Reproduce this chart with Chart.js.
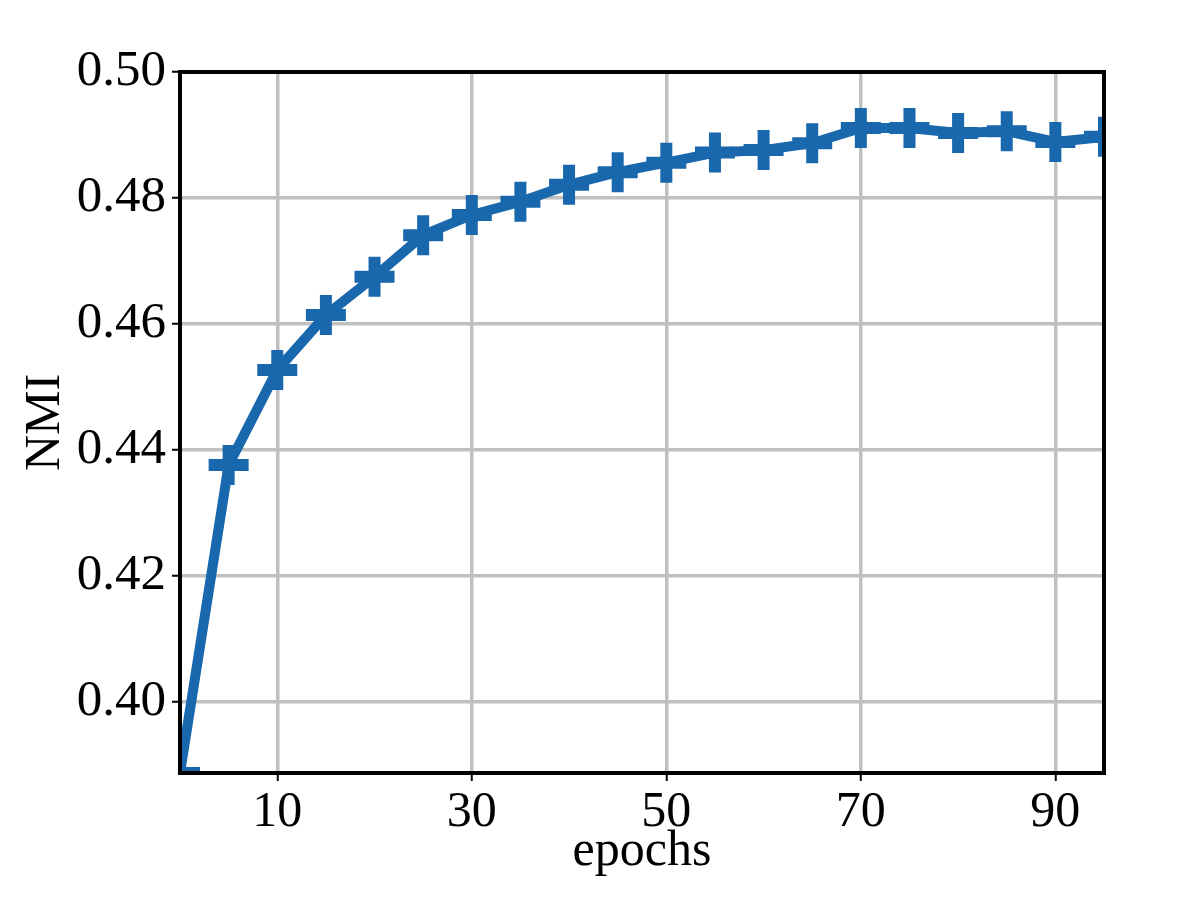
<!DOCTYPE html>
<html>
<head>
<meta charset="utf-8">
<script src="https://cdn.jsdelivr.net/npm/chart.js@4/dist/chart.umd.min.js"></script>
<style>
  html, body { margin:0; padding:0; background:#fff; }
  #wrap { width:1200px; height:900px; }
</style>
</head>
<body>
<div id="wrap"><canvas id="c" width="1200" height="900"></canvas></div>
<script>
// NMI per epoch
const epochs  = [0, 5, 10, 15, 20, 25, 30, 35, 40, 45, 50, 55, 60, 65, 70, 75, 80, 85, 90, 95];
const nmiVals = [0.3887, 0.4376, 0.4527, 0.4614, 0.4675, 0.4741, 0.4773, 0.4794, 0.4821, 0.4841,
                 0.4856, 0.4872, 0.4876, 0.4887, 0.4911, 0.4911, 0.4903, 0.4906, 0.4889, 0.4897];
const xTicks  = [10, 30, 50, 70, 90];
const yTicks  = [0.40, 0.42, 0.44, 0.46, 0.48, 0.50];

const LINE_COL = '#1967ad';
const FONT = "'Liberation Serif', 'DejaVu Serif', serif";

// black frame drawn over the data, like matplotlib spines
const frame = {
  id: 'frame',
  afterDatasetsDraw(chart) {
    const { ctx, chartArea: a } = chart;
    ctx.save();
    ctx.strokeStyle = '#000';
    ctx.lineWidth = 4;
    ctx.strokeRect(a.left, a.top, a.right - a.left, a.bottom - a.top);
    ctx.restore();
  }
};

new Chart(document.getElementById('c').getContext('2d'), {
  type: 'line',
  data: {
    datasets: [{
      label: 'NMI',
      data: epochs.map((e, i) => ({ x: e, y: nmiVals[i] })),
      borderColor: LINE_COL, borderWidth: 10,
      pointStyle: 'cross', pointRadius: 20, pointBorderWidth: 12,
      pointBorderColor: LINE_COL, pointBackgroundColor: LINE_COL,
      tension: 0, fill: false, clip: 0,
    }]
  },
  options: {
    responsive: false, animation: false,
    layout: { padding: { left: 0, right: 96, top: 72, bottom: 0 } },
    plugins: { legend: { display: false }, tooltip: { enabled: false } },
    scales: {
      x: {
        type: 'linear', min: 0, max: 95,
        afterBuildTicks: s => { s.ticks = xTicks.map(v => ({ value: v })); },
        afterFit: s => { s.height = 127; },
        ticks: { color: '#000', font: { family: FONT, size: 50 }, padding: 2, maxRotation: 0 },
        grid: { color: '#c0c0c0', lineWidth: 3.5, tickColor: '#000', tickLength: 8, tickWidth: 2 },
        border: { display: false },
        title: { display: true, text: 'epochs', color: '#000',
                 font: { family: FONT, size: 50 }, padding: { top: 0, bottom: 18 } },
      },
      y: {
        min: 0.3887, max: 0.50,
        afterBuildTicks: s => { s.ticks = yTicks.map(v => ({ value: v })); },
        afterFit: s => { s.width = 180; },
        ticks: { color: '#000', font: { family: FONT, size: 51 }, padding: 6,
                 callback: v => v.toFixed(2) },
        grid: { color: '#c0c0c0', lineWidth: 3.5, tickColor: '#000', tickLength: 8, tickWidth: 2 },
        border: { display: false },
        title: { display: true, text: 'NMI', color: '#000',
                 font: { family: FONT, size: 50 }, padding: { top: 16, bottom: 0 } },
      }
    }
  },
  plugins: [frame]
});
</script>
</body>
</html>
